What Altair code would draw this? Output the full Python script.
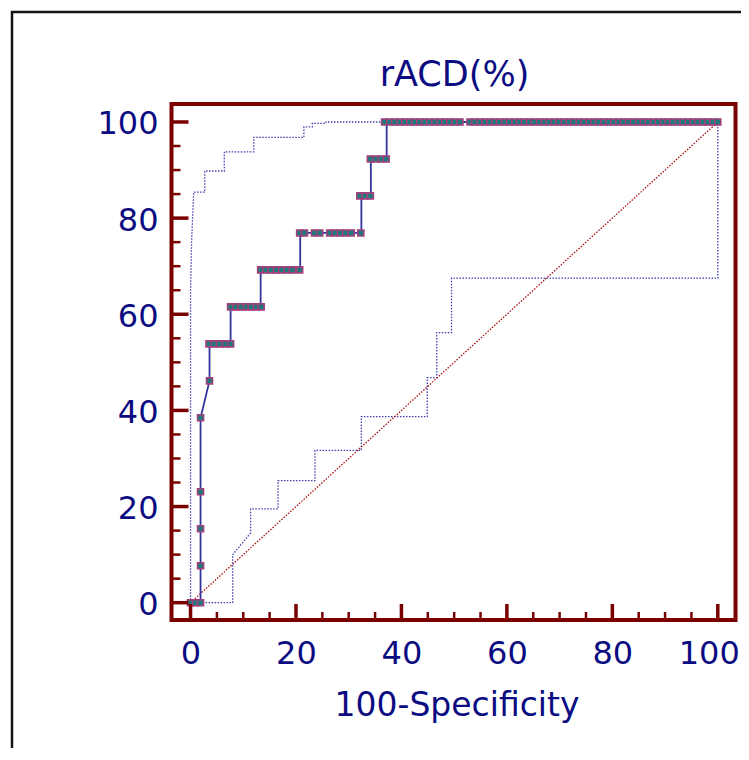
import altair as alt
import pandas as pd

# ---------------- data ----------------
# ROC curve vertices (100-Specificity, Sensitivity)
roc_x = [0, 1.9, 1.9, 3.6, 3.6, 7.6, 7.6, 13.3, 13.3, 20.8, 20.8, 32.4, 32.4, 34.2, 34.2, 37.2, 37.2, 100]
roc_y = [0, 0, 38.46, 46.15, 53.85, 53.85, 61.54, 61.54, 69.23, 69.23, 76.92, 76.92, 84.62, 84.62, 92.31, 92.31, 100, 100]

# criterion markers, per sensitivity level
mark_levels = [0, 7.69, 15.38, 23.08, 38.46, 46.15, 53.85, 61.54, 69.23, 76.92, 84.62, 92.31, 100]
mark_xs = [
    [0, 0.95, 1.9],
    [1.9],
    [1.9],
    [1.9],
    [1.9],
    [3.6],
    [3.5, 4.5, 5.5, 6.6, 7.6],
    [7.6, 8.6, 9.6, 10.6, 11.5, 12.5, 13.4],
    [13.3, 14.3, 15.3, 16.3, 17.3, 18.3, 19.3, 20.7],
    [20.7, 21.6, 23.5, 24.5, 26.4, 27.4, 28.4, 29.4, 30.5, 32.3],
    [32.1, 33.1, 34.1],
    [34.1, 35.1, 36.1, 37.1],
    [36.8, 37.8, 38.7, 39.7, 40.6, 41.6, 42.5, 43.5, 44.4, 45.4, 46.3, 47.3, 48.2, 49.2, 50.1, 51.1,
     53.0, 53.9, 54.9, 55.8, 56.8, 57.7, 58.6, 59.6, 60.5, 61.5, 62.4, 63.3, 64.3, 65.2, 66.2, 67.1,
     68.0, 69.0, 69.9, 70.9, 71.8, 72.7, 73.7, 74.6, 75.6, 76.5, 77.4, 78.4, 79.3, 80.3, 81.2, 82.1,
     83.1, 84.0, 85.0, 85.9, 86.8, 87.8, 88.7, 89.7, 90.6, 91.5, 92.5, 93.4, 94.4, 95.3, 96.2, 97.2,
     98.1, 99.1, 100.0],
]

# 95% confidence bounds
upper_x = [0, 0, 0.2, 0.6, 2.7, 2.7, 6.4, 6.4, 12.0, 12.0, 21.5, 21.5, 23.1, 23.1, 25.7, 25.7, 100]
upper_y = [0, 65, 75, 85.4, 85.4, 89.8, 89.8, 93.8, 93.8, 96.8, 96.8, 99.0, 99.0, 99.7, 99.7, 100, 100]
lower_x = [0, 8.0, 8.0, 11.4, 11.4, 16.6, 16.6, 23.6, 23.6, 32.4, 32.4, 44.9, 44.9, 46.7, 46.7, 49.5, 49.5, 100, 100]
lower_y = [0, 0, 10.0, 14.5, 19.5, 19.5, 25.4, 25.4, 31.7, 31.7, 38.7, 38.7, 46.8, 46.8, 56.2, 56.2, 67.5, 67.5, 100]

diag_x = [0, 100]
diag_y = [0, 100]

major_ticks = [0, 20, 40, 60, 80, 100]
minor_ticks = [5, 10, 15, 25, 30, 35, 45, 50, 55, 65, 70, 75, 85, 90, 95]

title_text = "rACD(%)"
x_title = "100-Specificity"

# ---------------- tables ----------------
roc_df = pd.DataFrame({"x": roc_x, "y": roc_y, "i": list(range(len(roc_x)))})
rows = []
for lvl, xs_ in zip(mark_levels, mark_xs):
    for v in xs_:
        rows.append({"x": v, "y": lvl})
marks_df = pd.DataFrame(rows)
upper_df = pd.DataFrame({"x": upper_x, "y": upper_y, "i": list(range(len(upper_x))), "g": "upper"})
lower_df = pd.DataFrame({"x": lower_x, "y": lower_y, "i": list(range(len(lower_x))), "g": "lower"})
ci_df = pd.concat([upper_df, lower_df], ignore_index=True)
diag_df = pd.DataFrame({"x": diag_x, "y": diag_y})
major_df = pd.DataFrame({"x": major_ticks, "y": major_ticks})
minor_df = pd.DataFrame({"x": minor_ticks, "y": minor_ticks})
title_df = pd.DataFrame({"t": [title_text]})

# ---------------- styling ----------------
W, H = 564, 516
FONT = "DejaVu Sans"
NAVY = "#0B0B82"
MAROON = "#7A0000"
xs = alt.Scale(domain=[-3.61, 103.36], nice=False, zero=False)
ys = alt.Scale(domain=[-3.6, 103.74], nice=False, zero=False)

x_axis = alt.Axis(values=major_ticks, ticks=False, domain=False, grid=False, tickSize=0,
                  labelPadding=18, labelFont=FONT, labelFontSize=32, labelColor=NAVY,
                  labelFlush=False, labelOverlap=False,
                  labelOffset={"condition": {"test": "datum.value == 100", "value": -9}, "value": 0},
                  title=x_title, titleFont=FONT, titleFontSize=33, titleFontWeight="normal",
                  titleColor=NAVY, titleX=285, titleY=95, titleBaseline="alphabetic", titleAlign="center")
y_axis = alt.Axis(values=major_ticks, ticks=False, domain=False, grid=False, tickSize=0,
                  labelPadding=13.5, labelOffset=2, labelFont=FONT, labelFontSize=32, labelColor=NAVY,
                  labelFlush=False, labelOverlap=False, title=None)

X = alt.X("x:Q", scale=xs, axis=x_axis)
Y = alt.Y("y:Q", scale=ys, axis=y_axis)

ci = alt.Chart(ci_df).mark_line(color="#4040B0", strokeWidth=1.3, strokeDash=[1.5, 1.5]).encode(
    x=X, y=Y, detail="g:N", order="i:Q")
diag = alt.Chart(diag_df).mark_line(color="#A81010", strokeWidth=1.3, strokeDash=[1.5, 1.5]).encode(
    x=X, y=Y)
roc = alt.Chart(roc_df).mark_line(color="#34349E", strokeWidth=1.8).encode(
    x=X, y=Y, order="i:Q")
pts = alt.Chart(marks_df).mark_square(size=36, fill="#1E7A7A", stroke="#A2407C", strokeWidth=1.6, opacity=1).encode(
    x=X, y=Y)
xmaj = alt.Chart(major_df).mark_rule(color=MAROON, strokeWidth=3.5).encode(
    x=X, y=alt.value(H), y2=alt.value(H - 16))
xmin = alt.Chart(minor_df).mark_rule(color=MAROON, strokeWidth=2.5).encode(
    x=X, y=alt.value(H), y2=alt.value(H - 8))
ymaj = alt.Chart(major_df).mark_rule(color=MAROON, strokeWidth=3.5).encode(
    y=Y, x=alt.value(0), x2=alt.value(17))
ymin = alt.Chart(minor_df).mark_rule(color=MAROON, strokeWidth=2.5).encode(
    y=Y, x=alt.value(0), x2=alt.value(9))
ttl = alt.Chart(title_df).mark_text(font=FONT, fontSize=35, color=NAVY, align="center",
                                    baseline="alphabetic").encode(
    text="t:N", x=alt.value(W / 2 + 1), y=alt.value(-18))
border = alt.Chart(title_df).mark_rect(fill=None, stroke="#151515", strokeWidth=2.5).encode(
    x=alt.value(-159.5), x2=alt.value(640), y=alt.value(-92), y2=alt.value(700))

chart = alt.layer(ci, diag, roc, pts, xmaj, xmin, ymaj, ymin, ttl, border).properties(
    width=W, height=H,
    background="white",
    autosize=alt.AutoSizeParams(type="none"),
    padding={"left": 163.5, "top": 96, "right": 5.5, "bottom": 128},
).configure_view(stroke=MAROON, strokeWidth=4)

chart.save("out.html", embed_options={"renderer": "svg", "actions": False})
